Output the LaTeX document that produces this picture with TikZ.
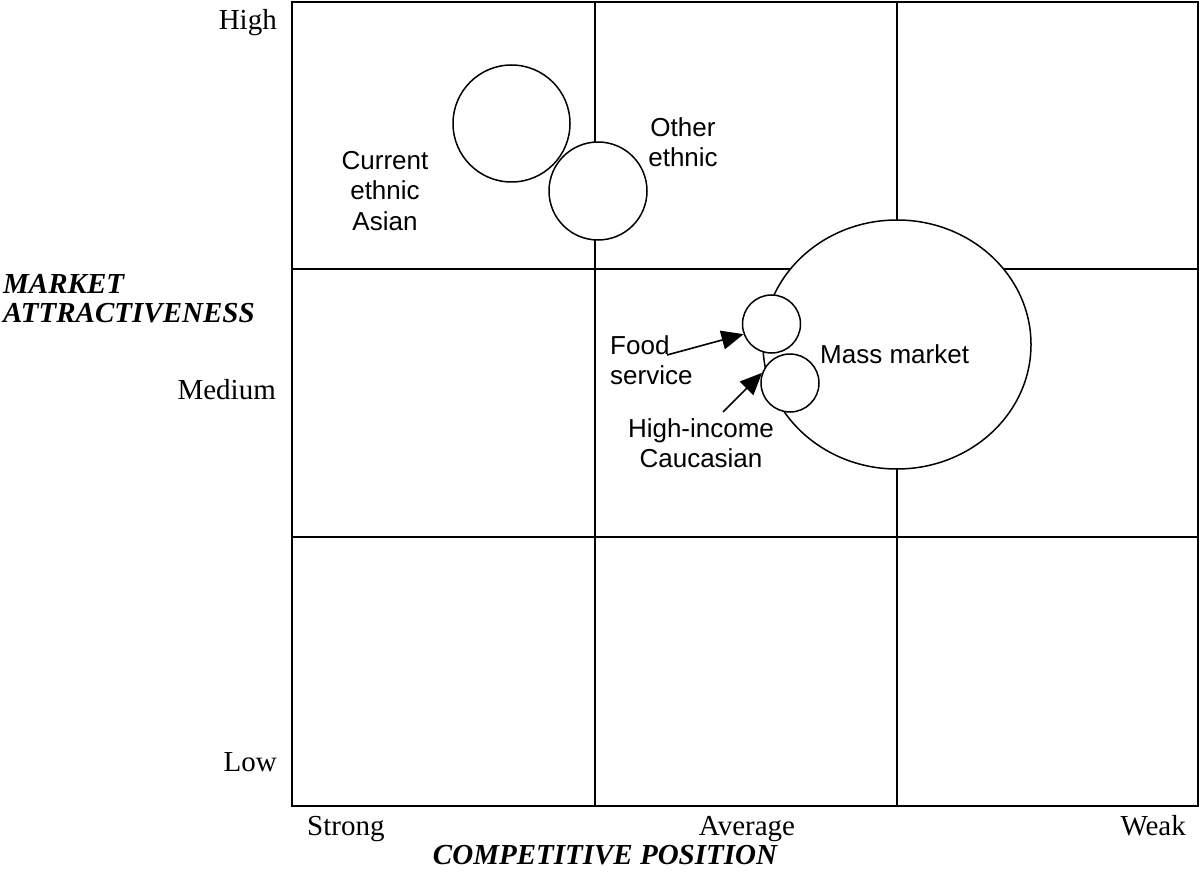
\documentclass[tikz,border=0pt]{standalone}
\usepackage{fontspec}
\setmainfont{Liberation Serif}
\setsansfont{Liberation Sans}
\usetikzlibrary{arrows.meta}
\begin{document}
\begin{tikzpicture}[x=1pt,y=-1pt,
  grid/.style={line width=2pt},
  bubble/.style={draw,circle,line width=1.5pt,inner sep=0pt},
  ax/.style={font=\fontsize{29}{33}\selectfont,inner sep=0pt},
  axtitle/.style={font=\fontsize{29}{29.5}\selectfont\bfseries\itshape,inner sep=0pt,align=left},
  lbl/.style={font=\sffamily\fontsize{26}{30.5}\selectfont,inner sep=0pt,align=center},
  pointer/.style={line width=1.6pt,-{Triangle[length=22pt,width=19pt]}}]
\useasboundingbox (0,0) rectangle (1199,877);
% grid
\draw[grid] (292,2) rectangle (1198,806);
\draw[grid] (595,2) -- (595,806);
\draw[grid] (897,2) -- (897,806);
\draw[grid] (292,269) -- (1198,269);
\draw[grid] (292,537) -- (1198,537);
% bubbles
\node[bubble,minimum size=117pt,fill=white] (asian) at (511.5,123.5) {};
\node[bubble,minimum size=98pt,fill=white] (other) at (598,191) {};
\draw[line width=1.5pt,fill=white] (897,344.5) ellipse [x radius=134, y radius=124.5];
\node (mass) at (897,344.5) {};
\node[bubble,minimum size=58pt,fill=white] (food) at (771.5,324) {};
\node[bubble,minimum size=58pt,fill=white] (hi) at (790,383) {};
% axis labels
\node[ax,anchor=base east] (high) at (277,30) {High};
\node[ax,anchor=base east] (medium) at (276,399) {Medium};
\node[ax,anchor=base east] (low) at (277,771) {Low};
\node[ax,anchor=base west] (strong) at (307,835) {Strong};
\node[ax,anchor=base] (average) at (747,835) {Average};
\node[ax,anchor=base east] (weak) at (1186,835) {Weak};
\node[axtitle,anchor=north west] (ma) at (3,274) {MARKET\\ATTRACTIVENESS};
\node[axtitle] (cp) at (605,855) {COMPETITIVE POSITION};
% bubble labels
\node[lbl] (asianl) at (385,191) {Current\\ethnic\\Asian};
\node[lbl] (otherl) at (683,142) {Other\\ethnic};
\node[lbl,anchor=west] (massl) at (820,354) {Mass market};
\node[lbl,align=left,anchor=west] (foodl) at (610,360) {Food\\service};
\node[lbl] (hil) at (701,443) {High-income\\Caucasian};
% arrows
\coordinate (foodtail) at (667,355);
\coordinate (hitail) at (723,412);
\draw[pointer] (foodtail) -- (food.200);
\draw[pointer] (hitail) -- (hi.160);
\end{tikzpicture}
\end{document}
